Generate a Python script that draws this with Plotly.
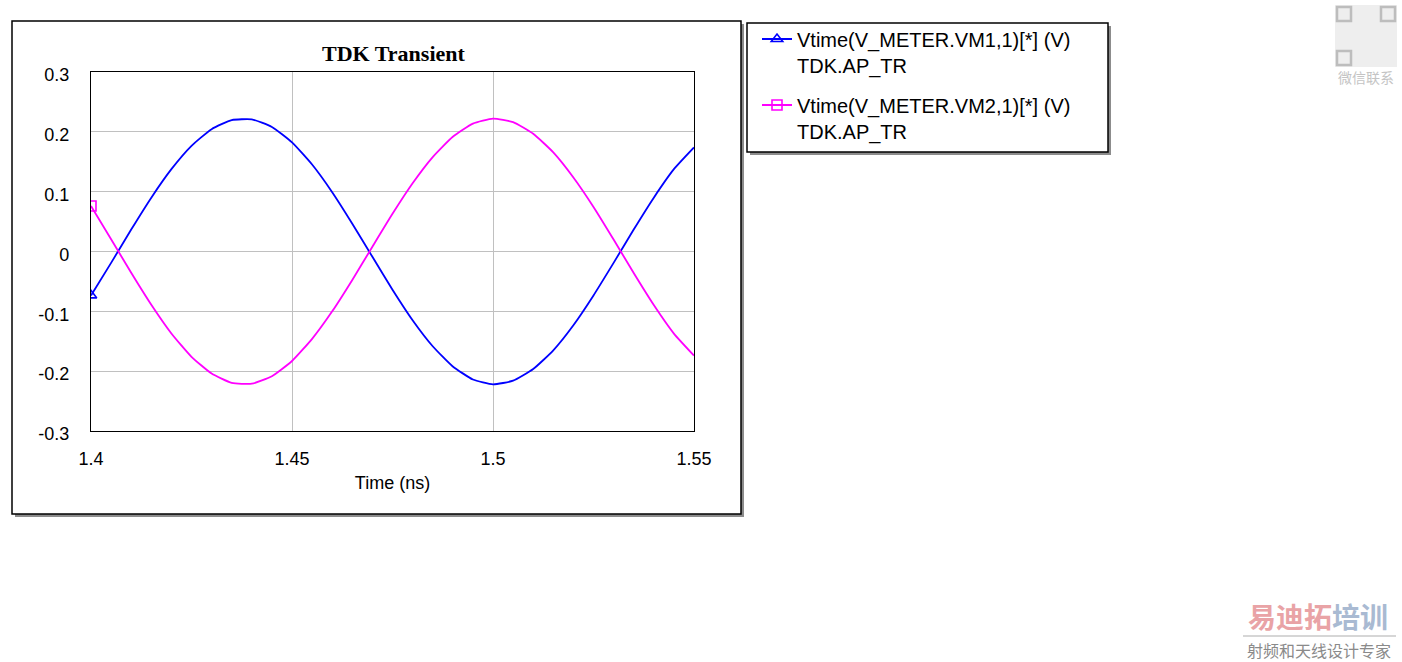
import plotly.graph_objects as go

# ---- data ----
time_ns = [1.400, 1.405, 1.410, 1.415, 1.420, 1.425, 1.430, 1.435, 1.440, 1.445,
           1.450, 1.455, 1.460, 1.465, 1.470, 1.475, 1.480, 1.485, 1.490, 1.495,
           1.500, 1.505, 1.510, 1.515, 1.520, 1.525, 1.530, 1.535, 1.540, 1.545,
           1.550]
vm1 = [-0.0734, -0.0190, 0.0367, 0.0900, 0.1376, 0.1766, 0.2045, 0.2196, 0.2208, 0.2082,
       0.1824, 0.1454, 0.0992, 0.0465, -0.0089, -0.0638, -0.1148, -0.1583, -0.1921, -0.2139,
       -0.2220, -0.2159, -0.1964, -0.1651, -0.1232, -0.0734, -0.0190, 0.0367, 0.0900, 0.1376,
       0.1740]
vm2 = [0.0760, 0.0205, -0.0355, -0.0890, -0.1370, -0.1760, -0.2040, -0.2195, -0.2210, -0.2085,
       -0.1830, -0.1460, -0.1000, -0.0475, 0.0080, 0.0630, 0.1140, 0.1578, 0.1918, 0.2138,
       0.2220, 0.2162, 0.1968, 0.1657, 0.1238, 0.0745, 0.0200, -0.0360, -0.0895, -0.1372,
       -0.1740]
series_names = ["Vtime(V_METER.VM1,1)[*] (V)<br>TDK.AP_TR",
                "Vtime(V_METER.VM2,1)[*] (V)<br>TDK.AP_TR"]
x_tickvals = [1.40, 1.45, 1.50, 1.55]
x_ticktext = ["1.4", "1.45", "1.5", "1.55"]
y_tickvals = [-0.3, -0.2, -0.1, 0.0, 0.1, 0.2, 0.3]
y_ticktext = ["-0.3", "-0.2", "-0.1", "0", "0.1", "0.2", "0.3"]

W, H = 1402, 662


def px(x):
    return x / W


def py(y):
    return 1 - y / H


BLUE = "#0000FF"
MAG = "#FF00FF"
SANS = "Liberation Sans, Arial, sans-serif"

fig = go.Figure()

for vals, color, sym, name, grp in [
    (vm1, BLUE, "triangle-up-open", series_names[0], "g1"),
    (vm2, MAG, "square-open", series_names[1], "g2"),
]:
    fig.add_trace(go.Scatter(
        x=time_ns, y=vals, mode="lines", showlegend=False,
        line=dict(color=color, width=1.8, shape="spline", smoothing=0.5),
        hoverinfo="skip"))
    fig.add_trace(go.Scatter(
        x=time_ns[:1], y=vals[:1], mode="lines+markers", name=name,
        legendgroup=grp,
        line=dict(color=color, width=1.8),
        marker=dict(symbol=sym, size=10, color=color, line=dict(color=color, width=1.6))))


def rect(x0, y0, x1, y1, **kw):
    return dict(type="rect", xref="paper", yref="paper",
                x0=px(x0), x1=px(x1), y0=py(y0), y1=py(y1), **kw)


shapes = [
    # outer frame shadow + frame
    rect(15, 24, 744, 517, fillcolor="#8C8C8C", line=dict(width=0), layer="below"),
    rect(12, 21, 741, 514, fillcolor="white", line=dict(color="black", width=1.5), layer="below"),
    # legend box shadow + box
    rect(750, 26, 1111, 155, fillcolor="#8C8C8C", line=dict(width=0), layer="below"),
    rect(747, 23, 1108, 152, fillcolor="white", line=dict(color="black", width=1.5), layer="below"),
    # faint QR-code watermark
    rect(1335, 5, 1397, 67, fillcolor="#EEEEEE", line=dict(width=0), layer="below"),
    rect(1337, 7, 1351, 21, fillcolor="rgba(0,0,0,0)", line=dict(color="#BDBDBD", width=2.5)),
    rect(1381, 7, 1395, 21, fillcolor="rgba(0,0,0,0)", line=dict(color="#BDBDBD", width=2.5)),
    rect(1337, 51, 1351, 65, fillcolor="rgba(0,0,0,0)", line=dict(color="#BDBDBD", width=2.5)),
    # watermark underline
    dict(type="line", xref="paper", yref="paper", x0=px(1243), x1=px(1396), y0=py(636), y1=py(636),
         line=dict(color="#C8C8C8", width=1.5)),
]

annotations = [
    dict(text="<b>TDK Transient</b>", x=px(393), y=py(53), xref="paper", yref="paper",
         showarrow=False, xanchor="center", yanchor="middle",
         font=dict(family="Liberation Serif, Times New Roman, serif", size=22, color="black")),
    dict(text="微信联系", x=px(1366), y=py(77), xref="paper", yref="paper", showarrow=False,
         xanchor="center", yanchor="middle",
         font=dict(family="Noto Sans CJK SC", size=14, color="#C4C4C4")),
    dict(text="<span style='color:#E9A3A6'>易迪拓</span><span style='color:#A9BAD2'>培训</span>",
         x=px(1318), y=py(616), xref="paper", yref="paper", showarrow=False,
         xanchor="center", yanchor="middle",
         font=dict(family="Noto Sans CJK SC", size=28, weight="bold")),
    dict(text="射频和天线设计专家", x=px(1319), y=py(650), xref="paper", yref="paper",
         showarrow=False, xanchor="center", yanchor="middle",
         font=dict(family="Noto Sans CJK SC", size=16, color="#8A8A8A")),
]

fig.update_layout(
    width=W, height=H,
    margin=dict(l=0, r=0, t=0, b=0, pad=0, autoexpand=False),
    paper_bgcolor="white", plot_bgcolor="white",
    shapes=shapes, annotations=annotations,
    showlegend=True,
    legend=dict(x=px(757), y=py(19.5), xanchor="left", yanchor="top",
                bgcolor="rgba(0,0,0,0)", borderwidth=0,
                font=dict(family=SANS, size=20, color="black"),
                valign="top", tracegroupgap=11, itemwidth=30),
    xaxis=dict(domain=[px(91), px(694)], range=[1.4, 1.55],
               tickvals=x_tickvals, ticktext=x_ticktext,
               showgrid=True, gridcolor="#C0C0C0", gridwidth=1,
               showline=True, linecolor="black", linewidth=1.2, mirror=True,
               zeroline=False, ticks="outside", ticklen=0, ticklabelstandoff=11,
               automargin=False,
               tickfont=dict(family=SANS, size=18, color="black"),
               title=dict(text="Time (ns)", standoff=8,
                          font=dict(family=SANS, size=18, color="black"))),
    yaxis=dict(domain=[py(431), py(72)], range=[-0.3, 0.3],
               tickvals=y_tickvals, ticktext=y_ticktext,
               showgrid=True, gridcolor="#C0C0C0", gridwidth=1,
               showline=True, linecolor="black", linewidth=1.2, mirror=True,
               zeroline=False, ticks="outside", ticklen=0, ticklabelstandoff=17,
               ticklabelshift=3, automargin=False,
               tickfont=dict(family=SANS, size=18, color="black")),
)

fig.write_html("out.html",
               config={"displayModeBar": False},
               post_script="document.body.style.margin='0';document.body.style.padding='0';"
                           "document.body.style.overflow='hidden';")
